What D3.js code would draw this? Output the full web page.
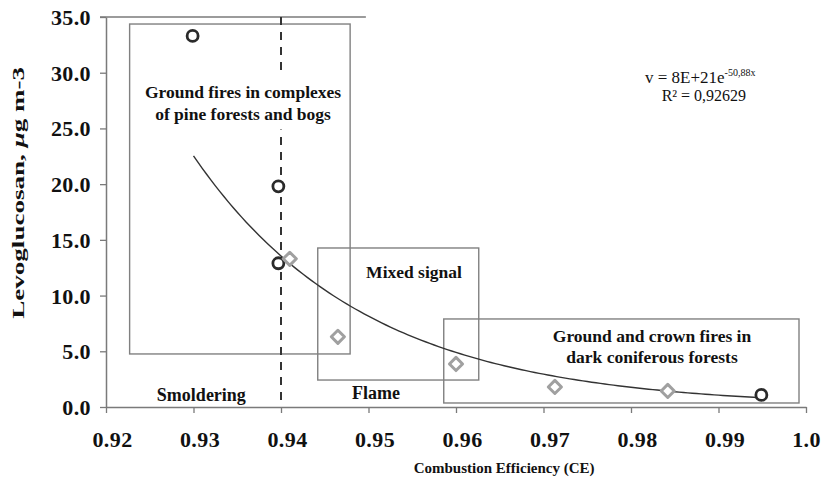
<!DOCTYPE html>
<html><head><meta charset="utf-8">
<script src="https://cdn.jsdelivr.net/npm/d3@7/dist/d3.min.js"></script>
<style>body{margin:0;background:#fff}svg{display:block}</style>
</head><body>
<svg id="chart" width="823" height="481"></svg>
<script>
// ---- data ----
const ceValues   = [0.9299, 0.9397, 0.9397, 0.9410, 0.9465, 0.9600, 0.9713, 0.9842, 0.9949];
const levoValues = [33.3, 19.8, 12.9, 13.3, 6.3, 3.86, 1.8, 1.44, 1.08];
const markerShapes = ["circle","circle","circle","diamond","diamond","diamond","diamond","diamond","circle"];
const xTicks = [0.92, 0.93, 0.94, 0.95, 0.96, 0.97, 0.98, 0.99, 1.0];
const xTickLabels = ["0.92","0.93","0.94","0.95","0.96","0.97","0.98","0.99","1.0"];
const yTicks = [0, 5, 10, 15, 20, 25, 30, 35];
const yTickLabels = ["0.0","5.0","10.0","15.0","20.0","25.0","30.0","35.0"];
const trendA = 8e21, trendB = -50.88;          // y = 8E+21 e^(-50.88x), as printed on the chart
const trendRange = [0.93, 0.995];
const boundaryCE = 0.94;
const regionX0 = [0.9227, 0.9442, 0.9586];
const regionX1 = [0.9479, 0.9626, 0.9992];
const regionY0 = [4.76, 2.42, 0.36];
const regionY1 = [34.37, 14.27, 7.9];

// ---- layout ----
const W = 823, H = 481;
const m = {left: 106, top: 17, right: 17, bottom: 74};
const x = d3.scaleLinear().domain([0.92, 1.0]).range([m.left, W - m.right]);
const y = d3.scaleLinear().domain([0, 35]).range([H - m.bottom, m.top]);
const svg = d3.select("#chart");
const serif = "'Liberation Serif','Times New Roman',serif";
const axisColor = "#7a7a7a";

// short top line at the 35 level
svg.append("line").attr("x1", x(0.92) - 6).attr("x2", x(0.9497)).attr("y1", y(35)).attr("y2", y(35))
  .attr("stroke", axisColor).attr("stroke-width", 1.5);

// axes
const gx = svg.append("g").attr("transform", `translate(0,${y(0)})`)
  .call(d3.axisBottom(x).tickValues(xTicks).tickFormat((d,i) => xTickLabels[i]).tickSize(6).tickSizeOuter(0).tickPadding(18));
const gy = svg.append("g").attr("transform", `translate(${x(0.92)},0)`)
  .call(d3.axisLeft(y).tickValues(yTicks).tickFormat((d,i) => yTickLabels[i]).tickSize(6).tickSizeOuter(0).tickPadding(9));
[gx, gy].forEach(g => {
  g.select(".domain").attr("stroke", axisColor).attr("stroke-width", 1.5);
  g.selectAll(".tick line").attr("stroke", axisColor).attr("stroke-width", 1.3);
  g.selectAll("text").attr("fill", "#111").style("font-family", serif)
    .style("font-weight", "bold").style("font-size", "22px").style("letter-spacing", "0.4px");
});
gx.selectAll("text").attr("dx", (d, i) => i === xTicks.length - 1 ? 0 : 6);
gy.selectAll("text").attr("dy", "0.34em");

// region boxes
const regions = d3.range(regionX0.length);
svg.append("g").selectAll("rect").data(regions).join("rect")
  .attr("x", i => x(regionX0[i])).attr("y", i => y(regionY1[i]))
  .attr("width", i => x(regionX1[i]) - x(regionX0[i]))
  .attr("height", i => y(regionY0[i]) - y(regionY1[i]))
  .attr("fill", "none").attr("stroke", "#808080").attr("stroke-width", 1.4);

// boundary dashed line
svg.append("line").attr("x1", x(boundaryCE)).attr("x2", x(boundaryCE))
  .attr("y1", y(35)).attr("y2", y(0))
  .attr("stroke", "#333").attr("stroke-width", 2).attr("stroke-dasharray", "8,7");

// trend line
const trendXs = d3.range(trendRange[0], trendRange[1] + 1e-9, 0.0005);
svg.append("path").datum(trendXs)
  .attr("d", d3.line().x(d => x(d)).y(d => y(trendA * Math.exp(trendB * d))))
  .attr("fill", "none").attr("stroke", "#333").attr("stroke-width", 1.4);

// markers
const pts = d3.range(ceValues.length);
const mk = svg.append("g");
pts.forEach(i => {
  const cx = x(ceValues[i]), cy = y(levoValues[i]);
  if (markerShapes[i] === "circle") {
    mk.append("circle").attr("cx", cx).attr("cy", cy).attr("r", 5.5)
      .attr("fill", "#fff").attr("stroke", "#2a2a2a").attr("stroke-width", 2.8);
  } else {
    mk.append("path").attr("d", d3.symbol(d3.symbolDiamond2, 110)())
      .attr("transform", `translate(${cx},${cy})`)
      .attr("fill", "#fff").attr("stroke", "#a0a0a0").attr("stroke-width", 3)
      .attr("stroke-linejoin", "round");
  }
});

// annotation text
function label(txt, xv, yv, size, anchor) {
  return svg.append("text").attr("x", x(xv)).attr("y", y(yv)).attr("text-anchor", anchor || "middle")
    .style("font-family", serif).style("font-weight", "bold").style("font-size", size + "px")
    .attr("fill", "#111").text(txt);
}
// white text box behind the first region label (hides dashed line)
const tb = svg.append("rect").attr("fill", "#fff");
const t1 = label("Ground fires in complexes", 0.93566, 27.7, 17.5);
const t2 = label("of pine forests and bogs", 0.93566, 25.8, 17.5);
{
  const b1 = t1.node().getBBox(), b2 = t2.node().getBBox();
  tb.attr("x", b1.x - 3).attr("y", b1.y - 10).attr("width", b1.width + 6).attr("height", b2.y + b2.height - b1.y + 16);
}
label("Mixed signal", 0.9552, 11.58, 17.5);
label("Smoldering", 0.9309, 0.55, 18);
label("Flame", 0.95086, 0.72, 18);
label("Ground and crown fires in", 0.9824, 5.83, 17.5);
label("dark coniferous forests", 0.9824, 3.95, 17.5);

// equation
const eq = svg.append("text").attr("x", x(0.9816)).attr("y", y(29.1)).attr("text-anchor", "start")
  .style("font-family", serif).style("font-size", "17px").attr("fill", "#111");
eq.append("tspan").text("v = 8E+21e");
eq.append("tspan").attr("dy", -7).style("font-size", "10px").text("-50,88x");
svg.append("text").attr("x", x(0.9835)).attr("y", y(27.5)).attr("text-anchor", "start")
  .style("font-family", serif).style("font-size", "16px").attr("fill", "#111").text("R² = 0,92629");

// axis titles
svg.append("text").attr("x", x(0.9655)).attr("y", H - 8).attr("text-anchor", "middle")
  .style("font-family", serif).style("font-weight", "bold").style("font-size", "15px").attr("fill", "#111")
  .text("Combustion Efficiency (CE)");
const yt = svg.append("text").attr("transform", `translate(24,${(y(31) + y(7.8))/2 + 2}) rotate(-90)`)
  .attr("text-anchor", "middle")
  .style("font-family", serif).style("font-weight", "bold").style("font-size", "17px").attr("fill", "#111")
  .attr("textLength", 252).attr("lengthAdjust", "spacingAndGlyphs");
yt.append("tspan").text("Levoglucosan, ");
yt.append("tspan").style("font-style", "italic").text("μ");
yt.append("tspan").text("g m-3");
</script>
</body></html>
